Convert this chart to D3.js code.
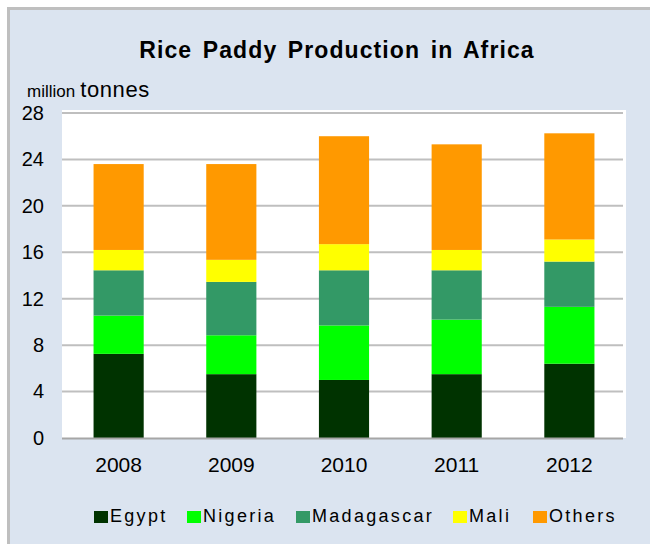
<!DOCTYPE html>
<html>
<head>
<meta charset="utf-8">
<script src="https://cdn.jsdelivr.net/npm/d3@7"></script>
<style>
  html, body { margin: 0; padding: 0; background: #fff; }
  svg { display: block; font-family: "Liberation Sans", Arial, sans-serif; }
</style>
</head>
<body>
<div id="chart"></div>
<script>
// Data (million tonnes)
const years = ['2008', '2009', '2010', '2011', '2012'];
const seriesNames = ['Egypt', 'Nigeria', 'Madagascar', 'Mali', 'Others'];
const egypt      = [7.25, 5.5, 5.0, 5.5, 6.4];
const nigeria    = [3.3, 3.35, 4.7, 4.7, 4.9];
const madagascar = [3.9, 4.6, 4.75, 4.25, 3.9];
const mali       = [1.75, 1.9, 2.25, 1.75, 1.9];
const others     = [7.4, 8.25, 9.3, 9.1, 9.15];
const yTicks = [0, 4, 8, 12, 16, 20, 24, 28];
const colors = ['#003300', '#00ff00', '#339966', '#ffff00', '#ff9900'];

const width = 650, height = 544;
const margin = { top: 113, right: 24, bottom: 106, left: 62 };

const svg = d3.select('#chart').append('svg')
    .attr('width', width)
    .attr('height', height);

// chart background + border
svg.append('rect')
    .attr('x', 8.5).attr('y', 8.5)
    .attr('width', width + 10).attr('height', height + 10)
    .attr('fill', '#dbe4f0')
    .attr('stroke', '#bfbfbf')
    .attr('stroke-width', 3);

const x = d3.scaleBand()
    .domain(years)
    .range([margin.left, width - margin.right])
    .paddingInner(0.555)
    .paddingOuter(0.28);

const y = d3.scaleLinear()
    .domain([0, 28])
    .range([height - margin.bottom, margin.top]);

// plot area
svg.append('rect')
    .attr('x', margin.left)
    .attr('y', margin.top - 3)
    .attr('width', width - margin.right - margin.left)
    .attr('height', y(0) - margin.top + 3)
    .attr('fill', '#fff');

// gridlines
svg.append('g')
    .selectAll('line')
    .data(yTicks.filter(d => d > 0))
    .join('line')
    .attr('x1', margin.left)
    .attr('x2', width - margin.right - 3)
    .attr('y1', d => y(d))
    .attr('y2', d => y(d))
    .attr('stroke', '#bfbfbf')
    .attr('stroke-width', 2);

// stacked bars
const table = years.map((yr, i) => ({
    year: yr,
    Egypt: egypt[i],
    Nigeria: nigeria[i],
    Madagascar: madagascar[i],
    Mali: mali[i],
    Others: others[i]
}));
const stacked = d3.stack().keys(seriesNames)(table);

svg.append('g')
    .selectAll('g')
    .data(stacked)
    .join('g')
    .attr('fill', (d, i) => colors[i])
    .selectAll('rect')
    .data(d => d)
    .join('rect')
    .attr('x', d => x(d.data.year))
    .attr('width', x.bandwidth())
    .attr('y', d => y(d[1]))
    .attr('height', d => y(d[0]) - y(d[1]));

// base axis line
svg.append('line')
    .attr('x1', margin.left)
    .attr('x2', width - margin.right - 3)
    .attr('y1', y(0) + 0.5)
    .attr('y2', y(0) + 0.5)
    .attr('stroke', '#a6a6a6')
    .attr('stroke-width', 2);

// y axis labels
const yAxis = d3.axisLeft(y).tickValues(yTicks).tickSize(0).tickPadding(0);
svg.append('g')
    .attr('transform', `translate(44,0)`)
    .call(yAxis)
    .call(g => g.select('.domain').remove())
    .call(g => g.selectAll('text')
        .attr('font-size', 20)
        .attr('font-family', '"Liberation Sans", Arial, sans-serif')
        .attr('fill', '#000'));

// x axis labels
const xAxis = d3.axisBottom(x).tickSize(0).tickPadding(0);
svg.append('g')
    .attr('transform', `translate(0,${y(0) + 19})`)
    .call(xAxis)
    .call(g => g.select('.domain').remove())
    .call(g => g.selectAll('text')
        .attr('font-size', 21)
        .attr('font-family', '"Liberation Sans", Arial, sans-serif')
        .attr('fill', '#000'));

// title
svg.append('text')
    .attr('x', 337)
    .attr('y', 58)
    .attr('text-anchor', 'middle')
    .attr('font-size', 23)
    .attr('font-weight', 'bold')
    .attr('letter-spacing', 1.1)
    .attr('word-spacing', 3)
    .text('Rice Paddy Production in Africa');

// unit label
const unit = svg.append('text')
    .attr('x', 27)
    .attr('y', 97);
unit.append('tspan').attr('font-size', 17).text('million');
unit.append('tspan').attr('dx', 5).attr('font-size', 22).attr('letter-spacing', 0.6).text('tonnes');

// legend
const legendX = [94, 187, 296, 453, 533];
const legend = svg.append('g')
    .selectAll('g')
    .data(seriesNames)
    .join('g')
    .attr('transform', (d, i) => `translate(${legendX[i]},522)`);

legend.append('rect')
    .attr('x', 0)
    .attr('y', -11)
    .attr('width', 14)
    .attr('height', 12)
    .attr('fill', (d, i) => colors[i]);

legend.append('text')
    .attr('x', 16)
    .attr('y', 0)
    .attr('font-size', 18)
    .attr('letter-spacing', 2.3)
    .text(d => d);
</script>
</body>
</html>
